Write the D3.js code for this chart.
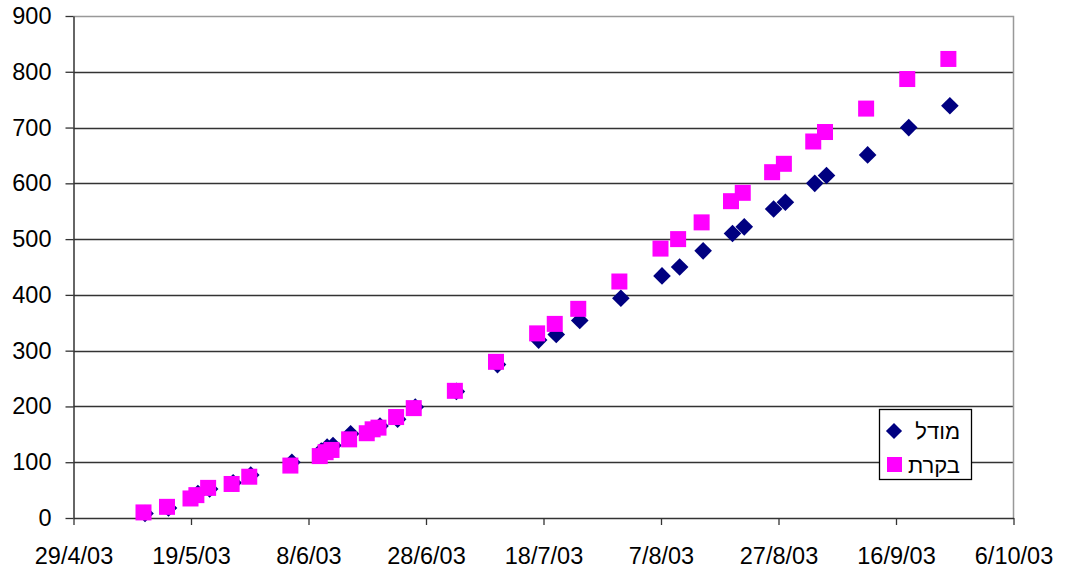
<!DOCTYPE html>
<html>
<head>
<meta charset="utf-8">
<script src="https://cdn.jsdelivr.net/npm/d3@7"></script>
<style>
  body { margin: 0; background: #fff; }
  svg { font-family: 'Liberation Sans', Arial, sans-serif; }
</style>
</head>
<body>
<div id="chartArea"></div>
<script>
const svgWidth = 1065;
const svgHeight = 575;

// data
const dates = ['2003-05-11', '2003-05-15', '2003-05-19', '2003-05-20', '2003-05-22', '2003-05-26',
  '2003-05-29', '2003-06-05', '2003-06-10', '2003-06-11', '2003-06-12', '2003-06-15', '2003-06-18',
  '2003-06-19', '2003-06-20', '2003-06-23', '2003-06-26', '2003-07-03', '2003-07-10', '2003-07-17',
  '2003-07-20', '2003-07-24', '2003-07-31', '2003-08-07', '2003-08-10', '2003-08-14', '2003-08-19',
  '2003-08-21', '2003-08-26', '2003-08-28', '2003-09-02', '2003-09-04', '2003-09-11', '2003-09-18',
  '2003-09-25'];
const modelValues = [8, 18, 38, 44, 52, 63, 77, 100, 120, 127, 130, 151, 155, 160, 165, 177, 199,
  227, 275, 319, 329, 354, 394, 434, 450, 479, 510, 522, 554, 566, 600, 614, 651, 700, 739];
const controlValues = [10, 20, 35, 41, 54, 61, 74, 94, 111, 118, 122, 141, 152, 159, 162, 181, 197,
  228, 280, 331, 348, 375, 424, 483, 500, 530, 568, 583, 620, 635, 675, 692, 734, 787, 823];
const seriesNames = ['מודל', 'בקרת'];
const xTicks = ['2003-04-29', '2003-05-19', '2003-06-08', '2003-06-28', '2003-07-18',
  '2003-08-07', '2003-08-27', '2003-09-16', '2003-10-06'];
const yTicks = [0, 100, 200, 300, 400, 500, 600, 700, 800, 900];

const parse = d3.timeParse('%Y-%m-%d');
const fmt = d => d.getDate() + '/' + (d.getMonth() + 1) + '/' + d3.timeFormat('%y')(d);

const modelColor = '#000080';
const controlColor = '#ff00ff';

const plotLeft = 73.5, plotRight = 1013.5, plotTop = 16, plotBottom = 518;

const x = d3.scaleTime()
  .domain([parse(xTicks[0]), parse(xTicks[xTicks.length - 1])])
  .range([plotLeft, plotRight]);
const y = d3.scaleLinear().domain([0, 900]).range([plotBottom, plotTop]);

const canvas = d3.select('#chartArea')
  .append('svg')
  .attr('width', svgWidth)
  .attr('height', svgHeight);

// gridlines
canvas.append('g')
  .selectAll('line')
  .data(yTicks.slice(1, -1))
  .join('line')
  .attr('x1', plotLeft).attr('x2', plotRight)
  .attr('y1', d => Math.round(y(d)) + 0.5).attr('y2', d => Math.round(y(d)) + 0.5)
  .attr('stroke', '#333')
  .attr('stroke-width', 1.3);

// plot frame top/right
canvas.append('path')
  .attr('d', `M${plotLeft},${plotTop + 0.5}H${plotRight}V${plotBottom}`)
  .attr('fill', 'none')
  .attr('stroke', '#999')
  .attr('stroke-width', 1.5);

// y axis
const yAxis = canvas.append('g')
  .attr('transform', `translate(${plotLeft},0)`)
  .call(d3.axisLeft(y).tickValues(yTicks).tickSize(8).tickPadding(14).tickSizeOuter(0));
yAxis.select('.domain').attr('stroke', '#333').attr('stroke-width', 1.5);
yAxis.selectAll('.tick line').attr('stroke', '#333').attr('stroke-width', 1.3);
yAxis.selectAll('.tick text').attr('font-size', 23.5).attr('fill', '#000')
  .attr('font-family', "'Liberation Sans', Arial, sans-serif");

// x axis
const xAxis = canvas.append('g')
  .attr('transform', `translate(0,${plotBottom})`)
  .call(d3.axisBottom(x).tickValues(xTicks.map(parse)).tickFormat(fmt)
    .tickSize(7).tickPadding(22).tickSizeOuter(0));
xAxis.select('.domain').attr('stroke', '#333').attr('stroke-width', 1.5);
xAxis.selectAll('.tick line').attr('stroke', '#333').attr('stroke-width', 1.3);
xAxis.selectAll('.tick text').attr('font-size', 23.5).attr('fill', '#000')
  .attr('font-family', "'Liberation Sans', Arial, sans-serif");

// series
const diamond = d3.symbol().type(d3.symbolDiamond2).size(150);

canvas.append('g')
  .selectAll('path')
  .data(dates)
  .join('path')
  .attr('d', diamond)
  .attr('transform', (d, i) => `translate(${x(parse(d)) + 1},${y(modelValues[i])}) scale(1.15)`)
  .attr('fill', modelColor);

canvas.append('g')
  .selectAll('rect')
  .data(dates)
  .join('rect')
  .attr('x', d => x(parse(d)) - 8.5)
  .attr('y', (d, i) => y(controlValues[i]) - 8)
  .attr('width', 16)
  .attr('height', 16)
  .attr('fill', controlColor);

// legend
const legend = canvas.append('g');
legend.append('rect')
  .attr('x', 879.5).attr('y', 409.5)
  .attr('width', 92).attr('height', 70)
  .attr('fill', '#fff')
  .attr('stroke', '#000')
  .attr('stroke-width', 1.3);

legend.append('path')
  .attr('d', diamond)
  .attr('transform', 'translate(894,431) scale(1.05)')
  .attr('fill', modelColor);
legend.append('rect')
  .attr('x', 887).attr('y', 457)
  .attr('width', 15).attr('height', 15)
  .attr('fill', controlColor);

legend.selectAll('text')
  .data(seriesNames)
  .join('text')
  .attr('x', 960)
  .attr('y', (d, i) => 439 + i * 34)
  .attr('text-anchor', 'end')
  .attr('font-size', 22)
  .attr('fill', '#000')
  .text(d => d);
</script>
</body>
</html>
